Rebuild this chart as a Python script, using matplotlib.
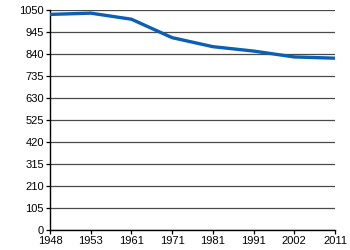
#!/usr/bin/env python3

import matplotlib
matplotlib.use('Agg')
import matplotlib.pyplot as plt

# Population over the census years
years = ['1948', '1953', '1961', '1971', '1981', '1991', '2002', '2011']
population = [1029, 1035, 1006, 918, 875, 854, 826, 820]
y_ticks = [0, 105, 210, 315, 420, 525, 630, 735, 840, 945, 1050]


def plot_population():
    plt.rcParams['font.family'] = ['Liberation Sans', 'DejaVu Sans']

    fig = plt.figure(figsize=(3.5, 2.5), dpi=100)
    ax = fig.add_axes([0.143, 0.08, 0.814, 0.88])

    x = range(len(years))
    ax.plot(x, population, color='#0b5fb5', linewidth=2.4,
            solid_joinstyle='round', solid_capstyle='butt', zorder=3)

    ax.set_xlim(0, len(years) - 1)
    ax.set_ylim(0, 1050)
    ax.set_xticks(list(x))
    ax.set_xticklabels(years)
    ax.set_yticks(y_ticks)

    # horizontal grid only
    ax.grid(axis='y', color='#4a4a4a', linewidth=0.9)
    ax.set_axisbelow(True)

    for side in ['top', 'right']:
        ax.spines[side].set_visible(False)
    ax.spines['left'].set_linewidth(1.0)
    ax.spines['bottom'].set_linewidth(1.0)

    ax.tick_params(axis='both', labelsize=8, length=3, width=0.9,
                   direction='out', pad=1.5, colors='black')

    fig.savefig('out.png', dpi=100)


if __name__ == "__main__":
    plot_population()
